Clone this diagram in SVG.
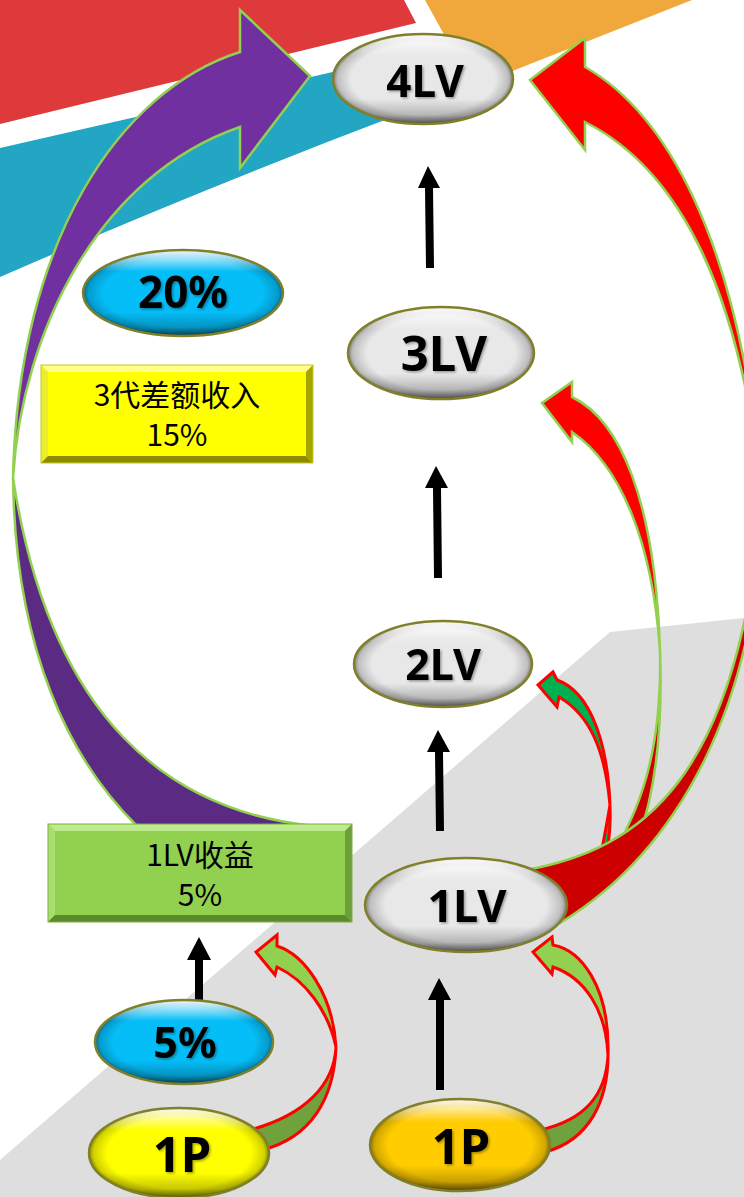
<svg xmlns="http://www.w3.org/2000/svg" width="744" height="1197" viewBox="0 0 744 1197">
<defs>
<style>
.lbl{font-family:"Noto Sans","Open Sans","DejaVu Sans",sans-serif;font-weight:700;fill:#000;text-anchor:middle;filter:url(#ts)}
.box{font-family:"Noto Sans CJK SC","Noto Sans",sans-serif;font-weight:400;font-size:30px;fill:#000;text-anchor:middle}
.rim{fill:none;stroke:#80802a;stroke-width:2.5}
.sh{fill:url(#shade)}
.ed{fill:url(#edge)}
.bk{fill:#000}
.pur{stroke:#92D050;stroke-width:2.5;stroke-linejoin:miter}
.red{stroke:#92D050;stroke-width:2.5}
.grn{stroke:#FF0000;stroke-width:3;stroke-linejoin:miter}
</style>
<linearGradient id="shade" x1="0" y1="0" x2="0" y2="1">
<stop offset="0" stop-color="#fff" stop-opacity="0.95"/>
<stop offset="0.1" stop-color="#fff" stop-opacity="0.6"/>
<stop offset="0.25" stop-color="#fff" stop-opacity="0"/>
<stop offset="0.72" stop-color="#000" stop-opacity="0"/>
<stop offset="0.9" stop-color="#000" stop-opacity="0.22"/>
<stop offset="1" stop-color="#000" stop-opacity="0.55"/>
</linearGradient>
<radialGradient id="edge" cx="0.5" cy="0.5" r="0.5">
<stop offset="0.8" stop-color="#000" stop-opacity="0"/>
<stop offset="0.95" stop-color="#000" stop-opacity="0.18"/>
<stop offset="1" stop-color="#000" stop-opacity="0.45"/>
</radialGradient>
<filter id="ts" x="-10%" y="-10%" width="130%" height="130%">
<feDropShadow dx="1.5" dy="1.5" stdDeviation="1" flood-color="#000" flood-opacity="0.35"/>
</filter>
</defs>

<g id="background">
<rect width="744" height="1197" fill="#fff"/>
<polygon points="0,0 404,0 416,23 0,124" fill="#DF3A3B"/>
<path d="M0,148 L385,60 L395,116 Q200,190 0,277 Z" fill="#22A6C4"/>
<polygon points="425,0 692,0 505,74 447,40" fill="#F0A83D"/>
<polygon points="744,618 610,632 0,1160 0,1197 744,1197" fill="#DEDEDE"/>
</g>

<g id="connectors">
<g id="arrow-purple">
<path class="pur" fill="#5B2A82" d="M13,478 C15,650 70,760 137,826 L315,826 C170,812 50,720 13,478 Z"/>
<path class="pur" fill="#7030A0" d="M240,52 L240,10 L310,76 L240,168 L240,127 C100,175 22,330 13,478 C18,240 120,90 240,52 Z"/>
</g>
<g id="arrow-red-3lv">
<path class="red" fill="#CC0000" d="M660,650 C662,740 645,800 615,850 L638,840 C656,790 663,730 660,650 Z"/>
<path class="red" fill="#FF0000" d="M572,397 L572,382 L542,403 L572,442 L572,432 C620,465 652,540 660,650 C655,500 620,420 572,397 Z"/>
</g>
<g id="arrow-green-2lv">
<path class="grn" fill="#00B050" d="M610,805 C611,825 609,842 606,858 L600,858 C604,840 607,822 610,805 Z"/>
<path class="grn" fill="#00B050" d="M557,680 L553,672 L538,685 L557,707 L559,697 C590,715 605,750 610,805 C607,730 585,690 557,680 Z"/>
</g>
<g id="arrow-red-4lv">
<path class="red" fill="#CC0000" d="M762,495 C760,700 680,850 560,923 L535,905 L525,870 C640,850 740,780 762,495 Z"/>
<path class="red" fill="#FF0000" d="M585,67 L585,38 L530,80 L585,150 L585,122 C680,170 740,290 762,495 C740,230 660,110 585,67 Z"/>
</g>
<g id="arrow-green-right">
<path class="grn" fill="#6FA23C" d="M608,1055 C606,1095 585,1120 540,1130 L545,1152 C590,1140 608,1100 608,1055 Z"/>
<path class="grn" fill="#92D050" d="M553,945 L552,937 L533,952 L552,974 L553,967 C585,978 606,1010 608,1055 C610,985 580,950 553,945 Z"/>
</g>
<g id="arrow-green-left">
<path class="grn" fill="#6FA23C" d="M336,1047 C334,1085 305,1115 250,1130 L262,1150 C310,1138 334,1100 336,1047 Z"/>
<path class="grn" fill="#92D050" d="M277,946 L277,935 L256,952 L275,975 L277,967 C305,980 328,1010 336,1047 C333,995 305,955 277,946 Z"/>
</g>
<g id="arrow-black">
<path class="bk" d="M426,268 L425,188 L418,188 L428,166 L440,188 L433,188 L434,268 Z"/>
<path class="bk" d="M434,578 L433,488 L425,488 L436,466 L448,488 L441,488 L442,578 Z"/>
<path class="bk" d="M436,831 L435,752 L427,752 L438,730 L450,752 L443,752 L444,831 Z"/>
<path class="bk" d="M436,1090 L436,1000 L428,1000 L439,978 L451,1000 L444,1000 L444,1090 Z"/>
<path class="bk" d="M195,1000 L195,960 L187,960 L199,937 L211,960 L203,960 L203,1000 Z"/>
</g>
</g>

<g id="node-4lv">
<ellipse cx="423" cy="79" rx="90" ry="45" fill="#E8E8E8"/>
<ellipse cx="423" cy="79" rx="90" ry="45" class="ed"/>
<ellipse cx="423" cy="79" rx="90" ry="45" class="sh"/>
<ellipse cx="423" cy="79" rx="90" ry="45" class="rim"/>
<text class="lbl" x="425" y="97" font-size="44">4LV</text>
</g>
<g id="node-3lv">
<ellipse cx="441" cy="353" rx="93" ry="46" fill="#E8E8E8"/>
<ellipse cx="441" cy="353" rx="93" ry="46" class="ed"/>
<ellipse cx="441" cy="353" rx="93" ry="46" class="sh"/>
<ellipse cx="441" cy="353" rx="93" ry="46" class="rim"/>
<text class="lbl" x="444" y="371" font-size="49">3LV</text>
</g>
<g id="node-2lv">
<ellipse cx="443" cy="664" rx="89" ry="43" fill="#E8E8E8"/>
<ellipse cx="443" cy="664" rx="89" ry="43" class="ed"/>
<ellipse cx="443" cy="664" rx="89" ry="43" class="sh"/>
<ellipse cx="443" cy="664" rx="89" ry="43" class="rim"/>
<text class="lbl" x="443" y="680" font-size="43">2LV</text>
</g>
<g id="node-1lv">
<ellipse cx="466" cy="905" rx="101" ry="47" fill="#E8E8E8"/>
<ellipse cx="466" cy="905" rx="101" ry="47" class="ed"/>
<ellipse cx="466" cy="905" rx="101" ry="47" class="sh"/>
<ellipse cx="466" cy="905" rx="101" ry="47" class="rim"/>
<text class="lbl" x="467" y="922" font-size="45">1LV</text>
</g>
<g id="node-20pct">
<ellipse cx="183" cy="293" rx="100" ry="43" fill="#05BDF7"/>
<ellipse cx="183" cy="293" rx="100" ry="43" class="ed"/>
<ellipse cx="183" cy="293" rx="100" ry="43" class="sh"/>
<ellipse cx="183" cy="293" rx="100" ry="43" class="rim"/>
<text class="lbl" x="183" y="308" font-size="44">20%</text>
</g>
<g id="node-3gen">
<rect x="41" y="365" width="272" height="98" fill="#FFFF00"/>
<polygon points="41,365 313,365 306,372 48,372" fill="#FFFF8A"/>
<polygon points="41,365 48,372 48,456 41,463" fill="#EDED30"/>
<polygon points="41,463 48,456 306,456 313,463" fill="#8C8C00"/>
<polygon points="313,365 313,463 306,456 306,372" fill="#A5A500"/>
<rect x="41" y="365" width="272" height="98" fill="none" stroke="#C8C820" stroke-width="1"/>
<text class="box" x="177" y="406">3代差额收入</text>
<text class="box" x="177" y="446">15%</text>
</g>
<g id="node-1lv-income">
<rect x="48" y="824" width="304" height="98" fill="#92D050"/>
<polygon points="48,824 352,824 345,831 55,831" fill="#BDEA8E"/>
<polygon points="48,824 55,831 55,915 48,922" fill="#A8DE70"/>
<polygon points="48,922 55,915 345,915 352,922" fill="#5B8A2A"/>
<polygon points="352,824 352,922 345,915 345,831" fill="#6E9E3A"/>
<rect x="48" y="824" width="304" height="98" fill="none" stroke="#7FB040" stroke-width="1"/>
<text class="box" x="200" y="866">1LV收益</text>
<text class="box" x="200" y="906">5%</text>
</g>
<g id="node-5pct">
<ellipse cx="184" cy="1042" rx="89" ry="42" fill="#05BDF7"/>
<ellipse cx="184" cy="1042" rx="89" ry="42" class="ed"/>
<ellipse cx="184" cy="1042" rx="89" ry="42" class="sh"/>
<ellipse cx="184" cy="1042" rx="89" ry="42" class="rim"/>
<text class="lbl" x="185" y="1058" font-size="43">5%</text>
</g>
<g id="node-1p-left">
<ellipse cx="179" cy="1153" rx="90" ry="45" fill="#FFFF00"/>
<ellipse cx="179" cy="1153" rx="90" ry="45" class="ed"/>
<ellipse cx="179" cy="1153" rx="90" ry="45" class="sh"/>
<ellipse cx="179" cy="1153" rx="90" ry="45" class="rim"/>
<text class="lbl" x="182" y="1172" font-size="49">1P</text>
</g>
<g id="node-1p-right">
<ellipse cx="460" cy="1145" rx="90" ry="46" fill="#FFCC00"/>
<ellipse cx="460" cy="1145" rx="90" ry="46" class="ed"/>
<ellipse cx="460" cy="1145" rx="90" ry="46" class="sh"/>
<ellipse cx="460" cy="1145" rx="90" ry="46" class="rim"/>
<text class="lbl" x="461" y="1164" font-size="49">1P</text>
</g>
</svg>
